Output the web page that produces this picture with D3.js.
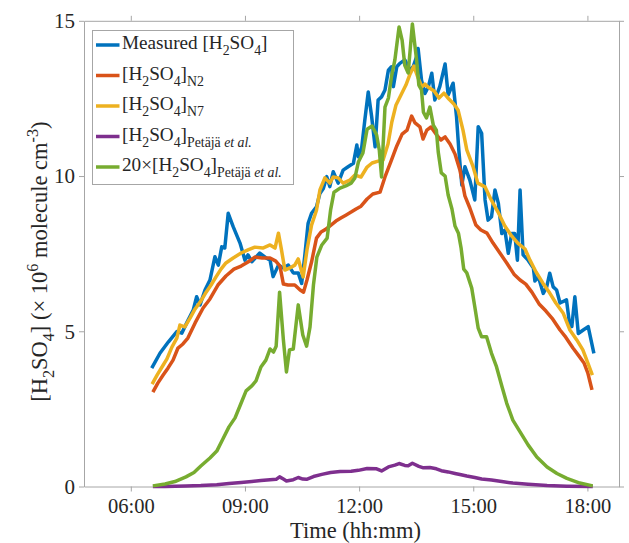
<!DOCTYPE html>
<html>
<head>
<meta charset="utf-8">
<script src="https://cdn.jsdelivr.net/npm/d3@7"></script>
<style>
  html, body { margin: 0; padding: 0; background: #fff; }
  svg { display: block; }
</style>
</head>
<body>
<script>
// time in decimal hours, concentration in 1e6 molecule cm-3
const measuredT = [6.55,6.77,6.99,7.21,7.34,7.47,7.64,7.73,7.82,7.95,8.08,8.21,8.30,8.39,8.47,8.56,8.69,8.87,9.00,9.08,9.18,9.39,9.57,9.66,9.74,9.88,10.01,10.14,10.27,10.40,10.49,10.58,10.66,10.75,10.88,10.97,11.06,11.15,11.23,11.32,11.45,11.58,11.71,11.85,11.94,11.98,12.07,12.15,12.24,12.33,12.42,12.50,12.59,12.68,12.77,12.85,12.90,12.99,13.07,13.20,13.34,13.42,13.51,13.55,13.64,13.73,13.82,13.91,13.99,14.12,14.26,14.34,14.47,14.56,14.62,14.70,14.78,14.91,15.04,15.13,15.22,15.31,15.39,15.48,15.57,15.66,15.75,15.83,15.92,16.01,16.09,16.16,16.23,16.31,16.44,16.58,16.62,16.71,16.84,16.93,17.01,17.10,17.19,17.28,17.45,17.54,17.59,17.67,17.76,17.89,18.02,18.17];
const measuredV = [3.81,4.30,4.66,4.99,4.94,5.27,5.68,6.11,5.85,6.33,6.65,7.40,7.13,7.72,7.68,8.80,8.37,7.84,7.29,7.46,7.24,7.52,7.35,7.29,6.76,7.13,7.04,7.13,6.88,6.88,6.54,7.52,8.48,8.80,9.01,9.44,9.60,9.98,9.66,10.14,9.77,10.19,10.30,10.41,11.00,10.62,10.94,11.80,12.71,11.91,10.94,12.45,12.55,12.77,13.41,13.52,12.88,13.52,13.63,13.74,13.41,13.52,13.84,14.11,13.09,12.66,12.88,13.31,12.45,12.88,13.61,12.61,12.99,11.91,10.84,9.71,10.30,9.87,9.23,11.59,11.38,9.23,8.58,8.69,9.55,9.12,8.15,8.26,7.51,8.15,8.15,7.29,9.55,7.46,7.29,7.04,6.62,6.76,6.22,6.43,6.87,6.43,6.33,5.91,6.01,5.15,5.15,6.11,4.93,5.04,5.15,4.29];

const n2T = [6.58,6.71,6.85,6.98,7.11,7.24,7.37,7.50,7.69,7.90,8.08,8.29,8.50,8.71,8.90,9.08,9.26,9.45,9.66,9.81,9.92,10.01,10.13,10.31,10.45,10.54,10.63,10.75,10.88,11.00,11.13,11.26,11.39,11.52,11.65,11.79,11.92,12.05,12.21,12.36,12.55,12.68,12.84,12.99,13.13,13.26,13.38,13.47,13.60,13.68,13.78,13.89,14.02,14.15,14.26,14.39,14.52,14.65,14.78,14.91,15.07,15.20,15.36,15.52,15.70,15.88,16.07,16.23,16.38,16.54,16.73,16.91,17.09,17.28,17.43,17.62,17.78,17.91,18.01,18.12];
const n2V = [3.04,3.33,3.59,3.82,4.07,4.46,4.59,4.78,5.27,5.75,6.04,6.49,6.78,7.00,7.10,7.23,7.39,7.36,7.36,7.26,7.10,6.52,6.49,6.49,6.33,6.26,6.65,7.23,8.00,8.20,8.29,8.42,8.55,8.65,8.74,8.84,8.94,9.03,9.26,9.42,9.48,9.97,10.48,10.97,11.35,11.48,11.93,11.71,11.58,11.19,11.48,11.58,11.35,11.16,11.26,11.03,10.71,10.19,9.36,8.97,8.42,8.26,8.16,7.84,7.52,7.20,6.84,6.65,6.52,6.26,5.88,5.65,5.39,5.04,4.81,4.46,4.20,3.98,3.66,3.11];

const n7T = [6.56,6.69,6.82,6.95,7.08,7.21,7.29,7.42,7.56,7.69,7.84,7.98,8.11,8.24,8.37,8.50,8.69,8.90,9.08,9.26,9.47,9.66,9.79,9.88,9.96,10.05,10.18,10.31,10.40,10.53,10.63,10.75,10.88,10.97,11.10,11.23,11.32,11.45,11.58,11.76,11.89,12.05,12.21,12.34,12.50,12.63,12.76,12.86,12.97,13.10,13.23,13.34,13.44,13.55,13.65,13.73,13.81,13.97,14.10,14.23,14.36,14.49,14.60,14.73,14.83,14.99,15.12,15.31,15.46,15.65,15.83,15.99,16.17,16.36,16.49,16.65,16.83,17.01,17.17,17.36,17.54,17.72,17.88,18.01,18.13];
const n7V = [3.30,3.59,3.85,4.11,4.49,4.78,5.20,5.14,5.43,5.72,5.97,6.26,6.49,6.75,7.00,7.20,7.36,7.52,7.62,7.71,7.68,7.78,7.68,8.16,7.62,6.97,7.04,7.13,7.33,6.75,7.62,8.42,8.90,9.55,9.94,9.77,9.97,9.94,9.77,9.87,10.03,9.97,10.29,10.42,10.48,10.52,11.03,11.74,12.29,12.61,12.93,13.29,13.54,13.16,12.87,12.96,12.87,12.74,12.51,12.67,12.48,12.32,12.13,11.48,10.84,10.32,9.77,9.65,9.26,8.84,8.39,8.10,7.84,7.65,7.29,6.91,6.55,6.23,5.91,5.59,5.04,4.72,4.40,3.98,3.59];

const petajaT = [6.58,6.90,7.45,7.84,8.26,8.58,8.90,9.18,9.42,9.66,9.82,9.91,10.01,10.09,10.27,10.40,10.52,10.62,10.80,11.02,11.25,11.50,11.79,11.98,12.21,12.46,12.59,12.77,12.94,13.05,13.20,13.29,13.40,13.57,13.69,13.86,14.03,14.16,14.34,14.52,14.68,14.83,15.04,15.22,15.48,15.75,16.04,16.44,16.94,17.46,18.14];
const petajaV = [0.00,0.00,0.02,0.03,0.06,0.10,0.13,0.16,0.19,0.22,0.23,0.31,0.24,0.18,0.22,0.29,0.24,0.23,0.32,0.39,0.45,0.48,0.49,0.52,0.58,0.57,0.50,0.63,0.69,0.74,0.68,0.67,0.75,0.65,0.60,0.61,0.57,0.51,0.47,0.42,0.38,0.34,0.29,0.24,0.21,0.16,0.11,0.07,0.03,0.01,0.00];

const petaja20T = [6.58,6.90,7.16,7.45,7.66,7.84,8.08,8.26,8.42,8.58,8.74,8.90,9.03,9.18,9.29,9.42,9.55,9.66,9.75,9.82,9.91,10.01,10.09,10.17,10.27,10.40,10.52,10.62,10.71,10.80,10.89,11.02,11.16,11.25,11.34,11.50,11.65,11.79,11.89,11.98,12.10,12.21,12.34,12.46,12.53,12.59,12.68,12.77,12.85,12.94,13.05,13.13,13.20,13.29,13.40,13.51,13.57,13.64,13.69,13.77,13.86,13.95,14.03,14.08,14.16,14.26,14.34,14.44,14.52,14.61,14.68,14.75,14.83,14.96,15.04,15.13,15.22,15.35,15.48,15.61,15.75,15.88,16.04,16.23,16.44,16.67,16.94,17.20,17.46,17.80,18.14];
const petaja20V = [0.02,0.08,0.16,0.31,0.45,0.66,0.92,1.14,1.53,1.92,2.21,2.69,3.08,3.24,3.40,3.85,4.07,4.43,4.33,4.52,6.26,4.72,3.69,4.40,4.43,5.85,4.88,4.52,5.14,6.49,7.39,7.78,8.00,8.90,9.48,9.61,9.68,9.77,9.94,10.45,10.74,11.51,11.61,11.32,10.84,9.97,12.22,12.51,13.19,13.74,14.80,14.38,13.57,13.32,14.90,13.74,12.93,12.77,12.06,11.87,12.22,11.64,11.48,10.77,10.10,10.00,9.39,8.94,8.39,8.16,7.68,7.00,6.88,6.39,5.79,5.10,4.82,4.82,4.29,3.86,3.24,2.68,2.14,1.76,1.34,0.95,0.63,0.42,0.26,0.11,0.02];

const xTickValues = [6, 9, 12, 15, 18];
const xTickLabels = ["06:00", "09:00", "12:00", "15:00", "18:00"];
const yTickValues = [0, 5, 10, 15];

const seriesColors = ["#0072BD", "#D95319", "#EDB120", "#7E2F8E", "#77AC30"];

// legend labels as rich-text pieces (sub = subscript, it = italic)
const legendLabels = [
    [{t: "Measured [H"}, {t: "2", sub: true}, {t: "SO"}, {t: "4", sub: true}, {t: "]"}],
    [{t: "[H"}, {t: "2", sub: true}, {t: "SO"}, {t: "4", sub: true}, {t: "]"}, {t: "N2", sub: true}],
    [{t: "[H"}, {t: "2", sub: true}, {t: "SO"}, {t: "4", sub: true}, {t: "]"}, {t: "N7", sub: true}],
    [{t: "[H"}, {t: "2", sub: true}, {t: "SO"}, {t: "4", sub: true}, {t: "]"}, {t: "Petäjä ", sub: true}, {t: "et al.", sub: true, it: true}],
    [{t: "20×[H"}, {t: "2", sub: true}, {t: "SO"}, {t: "4", sub: true}, {t: "]"}, {t: "Petäjä ", sub: true}, {t: "et al.", sub: true, it: true}]
];
const yLabelParts = [{t: "[H"}, {t: "2", sub: true}, {t: "SO"}, {t: "4", sub: true}, {t: "] (× 10"}, {t: "6", sup: true}, {t: " molecule cm"}, {t: "-3", sup: true}, {t: ")"}];

const width = 629, height = 543;
const font = "'Liberation Serif', 'Times New Roman', serif";
const axisColor = "#a6a6a6", textColor = "#262626";

const plotLeft = 84, plotRight = 619, plotTop = 20.8, plotBottom = 486.5;

const xScale = d3.scaleLinear().domain([4.77, 18.83]).range([plotLeft, plotRight]);
const yScale = d3.scaleLinear().domain([0, 15]).range([plotBottom, plotTop]);

const svg = d3.select("body").append("svg")
    .attr("width", width)
    .attr("height", height)
    .style("font-family", font);

function richText(sel, parts, size){
    let shift = 0;
    parts.forEach(p => {
        const target = p.sub ? size * 0.32 : (p.sup ? -size * 0.42 : 0);
        const ts = sel.append("tspan").attr("dy", target - shift).text(p.t);
        if(p.sub || p.sup) ts.attr("font-size", size * 0.72);
        if(p.it) ts.attr("font-style", "italic");
        shift = target;
    });
}

// axes (box with outward ticks)
const xAxis = d3.axisBottom(xScale).tickValues(xTickValues)
    .tickFormat((d, i) => xTickLabels[i]).tickSizeInner(5).tickSizeOuter(0).tickPadding(8);
const xAxisTop = d3.axisTop(xScale).tickValues(xTickValues).tickFormat("").tickSizeInner(5).tickSizeOuter(0);
const yAxis = d3.axisLeft(yScale).tickValues(yTickValues).tickSizeInner(5).tickSizeOuter(0).tickPadding(4);
const yAxisRight = d3.axisRight(yScale).tickValues(yTickValues).tickFormat("").tickSizeInner(5).tickSizeOuter(0);

const gx = svg.append("g").attr("transform", `translate(0, ${plotBottom})`).call(xAxis);
const gxt = svg.append("g").attr("transform", `translate(0, ${plotTop})`).call(xAxisTop);
const gy = svg.append("g").attr("transform", `translate(${plotLeft}, 0)`).call(yAxis);
const gyr = svg.append("g").attr("transform", `translate(${plotRight}, 0)`).call(yAxisRight);

[gx, gxt, gy, gyr].forEach(g => {
    g.attr("font-family", null);
    g.selectAll("path, line").attr("stroke", axisColor).attr("stroke-width", 1);
    g.selectAll("text").attr("fill", textColor).style("font-family", font).style("font-size", "21px");
});
gx.selectAll("text").style("font-size", "20.5px").attr("dy", "0.68em");

// series
const series = [
    d3.zip(measuredT, measuredV),
    d3.zip(n2T, n2V),
    d3.zip(n7T, n7V),
    d3.zip(petajaT, petajaV),
    d3.zip(petaja20T, petaja20V)
];

const line = d3.line().x(d => xScale(d[0])).y(d => yScale(d[1]));

svg.append("g").selectAll("path")
    .data(series)
    .enter()
    .append("path")
    .attr("d", line)
    .attr("fill", "none")
    .attr("stroke", (d, i) => seriesColors[i])
    .attr("stroke-width", 3.5)
    .attr("stroke-linejoin", "round")
    .attr("stroke-linecap", "butt");

// axis labels
svg.append("text")
    .attr("x", (plotLeft + plotRight) / 2 + 4)
    .attr("y", 538)
    .attr("text-anchor", "middle")
    .attr("fill", textColor)
    .style("font-size", "22.5px")
    .text("Time (hh:mm)");

const yLabel = svg.append("text")
    .attr("transform", `translate(47, ${(plotTop + plotBottom) / 2 + 8}) rotate(-90)`)
    .attr("text-anchor", "middle")
    .attr("fill", textColor)
    .style("font-size", "22.5px");
richText(yLabel, yLabelParts, 22.5);

// legend
const legend = svg.append("g");
legend.append("rect")
    .attr("x", 92.5).attr("y", 30.5)
    .attr("width", 201).attr("height", 154)
    .attr("fill", "#fff")
    .attr("stroke", axisColor);

const rowY = d3.scaleLinear().domain([0, 4]).range([45, 167]);
legendLabels.forEach((parts, i) => {
    legend.append("line")
        .attr("x1", 96).attr("x2", 119.5)
        .attr("y1", rowY(i)).attr("y2", rowY(i))
        .attr("stroke", seriesColors[i])
        .attr("stroke-width", 3.5);
    const t = legend.append("text")
        .attr("x", 122)
        .attr("y", rowY(i) + 4)
        .attr("fill", textColor)
        .style("font-size", "19.2px");
    richText(t, parts, 19.2);
});
</script>
</body>
</html>
